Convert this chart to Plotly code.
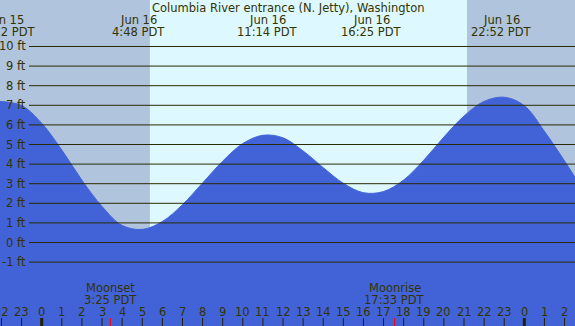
import plotly.graph_objects as go

# ---- data (hours since Jun 16 00:00 PDT, tide height in ft) ----
tide_hours = [-2.1, -1, 0, 1, 2, 3, 4, 5, 6, 7, 8, 9, 10, 11, 12, 13, 14, 15,
              16, 17, 18, 19, 20, 21, 22, 23, 24, 25, 26, 26.6]
tide_feet = [7.20, 6.99, 6.08, 4.72, 3.18, 1.84, 0.87, 0.67, 1.07, 1.93, 3.04, 4.15,
             5.05, 5.47, 5.34, 4.67, 3.82, 3.02, 2.54, 2.60, 3.19, 4.20, 5.38, 6.45,
             7.20, 7.41, 6.98, 5.67, 4.16, 3.20]

extreme_hours = [-1.80, 4.80, 11.233, 16.417, 22.867]
extreme_dates = ["Jun 15", "Jun 16", "Jun 16", "Jun 16", "Jun 16"]
extreme_times = ["22:12 PDT", "4:48 PDT", "11:14 PDT", "16:25 PDT", "22:52 PDT"]

sunrise_hour = 5.38
sunset_hour = 21.15

moon_hours = [3.417, 17.55]
moon_events = ["Moonset", "Moonrise"]
moon_times = ["3:25 PDT", "17:33 PDT"]

grid_levels = [-1, 0, 1, 2, 3, 4, 5, 6, 7, 8, 9, 10]
grid_labels = [f"{v} ft" for v in grid_levels]

hour_ticks = list(range(-2, 27))
hour_labels = [str(h % 24) for h in hour_ticks]

title = "Columbia River entrance (N. Jetty), Washington"

# ---- styling ----
W, H = 575, 326
X_RANGE = [-2.074, 26.52]
Y_RANGE = [-4.260, 12.372]
TXT = "#333300"
GRID = "#2a2a00"
WATER = "#4263d8"
DAY = "#ddf8ff"
NIGHT = "#b0c4de"
FONT = "DejaVu Sans"
FS = 11.5

def py(pix):
    return 1 - pix / H

def txt(text, xref, x, yref, y, xanchor="center"):
    return dict(text=text, xref=xref, yref=yref, x=x, y=y, xanchor=xanchor,
                yanchor="middle", showarrow=False, borderpad=0,
                font=dict(family=FONT, size=FS, color=TXT))

fig = go.Figure()
base = [Y_RANGE[0] - 1] * len(tide_hours)
fig.add_trace(go.Scatter(x=tide_hours, y=base, mode="lines",
                         line=dict(width=0, color=WATER), hoverinfo="skip", showlegend=False))
fig.add_trace(go.Scatter(x=tide_hours, y=tide_feet, mode="lines", fill="tonexty",
                         fillcolor=WATER, line=dict(color=WATER, width=1, shape="spline", smoothing=1.0),
                         showlegend=False))

shapes = []
shapes.append(dict(type="rect", xref="x", yref="paper", x0=X_RANGE[0] - 1, x1=sunrise_hour,
                   y0=0, y1=1, fillcolor=NIGHT, line=dict(width=0), layer="below"))
shapes.append(dict(type="rect", xref="x", yref="paper", x0=sunset_hour, x1=X_RANGE[1] + 1,
                   y0=0, y1=1, fillcolor=NIGHT, line=dict(width=0), layer="below"))
for lv in grid_levels:
    shapes.append(dict(type="line", xref="paper", yref="y", x0=29 / W, x1=1, y0=lv, y1=lv,
                       line=dict(color=GRID, width=1), layer="above"))
for h in hour_ticks:
    thick = (h % 24 == 0)
    shapes.append(dict(type="line", xref="x", yref="paper", x0=h, x1=h, y0=0, y1=8 / H,
                       line=dict(color="#222200", width=3 if thick else 1), layer="above"))
for mh in moon_hours:
    shapes.append(dict(type="line", xref="x", yref="paper", x0=mh, x1=mh, y0=0, y1=8 / H,
                       line=dict(color="#ff0000", width=1), layer="above"))

ann = [txt(title, "paper", 0.5, "paper", py(8))]
for h, d, t in zip(extreme_hours, extreme_dates, extreme_times):
    ann.append(txt(d, "x", h, "paper", py(20)))
    ann.append(txt(t, "x", h, "paper", py(31.5)))
for lv, t in zip(grid_levels, grid_labels):
    ann.append(txt(t, "paper", 27 / W, "y", lv, xanchor="right"))
for h, t in zip(hour_ticks, hour_labels):
    ann.append(txt(t, "x", h, "paper", py(311.5)))
for mh, e, t in zip(moon_hours, moon_events, moon_times):
    ann.append(txt(e, "x", mh, "paper", py(287.5)))
    ann.append(txt(t, "x", mh, "paper", py(299.5)))

fig.update_layout(
    width=W, height=H, margin=dict(l=0, r=0, t=0, b=0),
    plot_bgcolor=DAY, paper_bgcolor=DAY,
    xaxis=dict(range=X_RANGE, visible=False, fixedrange=True),
    yaxis=dict(range=Y_RANGE, visible=False, fixedrange=True),
    shapes=shapes, annotations=ann, showlegend=False,
)
fig.write_html("out.html", config={"displayModeBar": False},
               post_script="document.body.style.margin='0';document.body.style.padding='0';"
                           "document.body.style.overflow='hidden';")
